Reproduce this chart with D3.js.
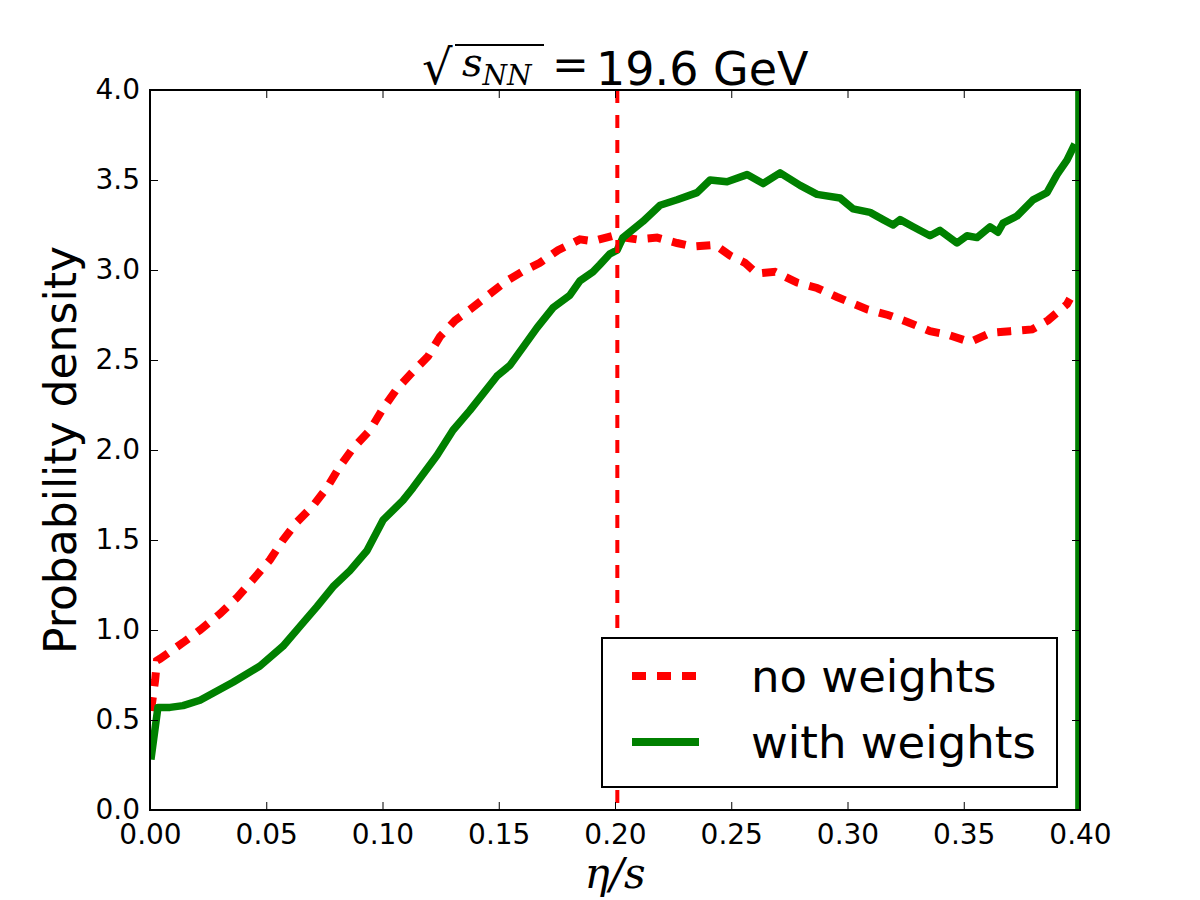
<!DOCTYPE html>
<html>
<head>
<meta charset="utf-8">
<script src="https://cdn.jsdelivr.net/npm/d3@7"></script>
<style>
  body { margin: 0; background: #fff; }
  svg { display: block; }
  .tick text { font-family: "DejaVu Sans", sans-serif; }
</style>
</head>
<body>
<svg id="chart"></svg>
<script>
const X_TICKS = [0, 0.05, 0.10, 0.15, 0.20, 0.25, 0.30, 0.35, 0.40]
const Y_TICKS = [0, 0.5, 1.0, 1.5, 2.0, 2.5, 3.0, 3.5, 4.0]
const SERIES_NAMES = ["no weights", "with weights"]
const COLORS = ["#ff0000", "#008000"]

// eta/s values and density
const noWeightsX = [0.0004, 0.0022, 0.0030, 0.0043, 0.0142, 0.0215, 0.0301, 0.0374, 0.0443, 0.0516,
    0.0572, 0.0632, 0.0701, 0.0761, 0.0817, 0.0873, 0.0946, 0.1002, 0.1062, 0.1127,
    0.1196, 0.1247, 0.1312, 0.1376, 0.1454, 0.1535, 0.1600, 0.1677, 0.1755, 0.1849,
    0.1905, 0.1991, 0.2095, 0.2181, 0.2267, 0.2335, 0.2430, 0.2495, 0.2559, 0.2611,
    0.2688, 0.2783, 0.2869, 0.2955, 0.3011, 0.3088, 0.3174, 0.3260, 0.3355, 0.3432,
    0.3527, 0.3613, 0.3699, 0.3794, 0.3862, 0.3944, 0.3957]
const noWeightsY = [0.55, 0.72, 0.83, 0.84, 0.93, 1.00, 1.09, 1.18, 1.28, 1.39,
    1.50, 1.60, 1.69, 1.79, 1.91, 2.01, 2.11, 2.23, 2.34, 2.43,
    2.52, 2.63, 2.72, 2.78, 2.86, 2.94, 2.99, 3.04, 3.11, 3.17,
    3.16, 3.19, 3.17, 3.18, 3.15, 3.13, 3.14, 3.08, 3.04, 2.98,
    2.99, 2.93, 2.90, 2.85, 2.82, 2.78, 2.75, 2.71, 2.66, 2.64,
    2.60, 2.65, 2.66, 2.67, 2.72, 2.81, 2.84]

const withWeightsX = [0.0004, 0.0034, 0.0086, 0.0142, 0.0215, 0.0357, 0.0473, 0.0572, 0.0645, 0.0718,
    0.0787, 0.0860, 0.0933, 0.1002, 0.1088, 0.1131, 0.1234, 0.1303, 0.1376, 0.1492,
    0.1548, 0.1604, 0.1665, 0.1733, 0.1806, 0.1849, 0.1905, 0.1935, 0.1978, 0.2009,
    0.2034, 0.2120, 0.2194, 0.2267, 0.2353, 0.2409, 0.2482, 0.2568, 0.2637, 0.2710,
    0.2796, 0.2869, 0.2968, 0.3024, 0.3097, 0.3153, 0.3196, 0.3226, 0.3282, 0.3355,
    0.3398, 0.3471, 0.3514, 0.3557, 0.3613, 0.3647, 0.3669, 0.3729, 0.3798, 0.3858,
    0.3901, 0.3944, 0.3978]
const withWeightsY = [0.28, 0.57, 0.57, 0.58, 0.61, 0.71, 0.80, 0.91, 1.02, 1.13,
    1.24, 1.33, 1.44, 1.61, 1.72, 1.79, 1.97, 2.11, 2.22, 2.41,
    2.47, 2.57, 2.68, 2.79, 2.86, 2.94, 2.99, 3.03, 3.09, 3.11,
    3.18, 3.27, 3.36, 3.39, 3.43, 3.50, 3.49, 3.53, 3.48, 3.54,
    3.47, 3.42, 3.40, 3.34, 3.32, 3.28, 3.25, 3.28, 3.24, 3.19,
    3.22, 3.15, 3.19, 3.18, 3.24, 3.21, 3.26, 3.30, 3.39, 3.43,
    3.53, 3.61, 3.70]

const CUT_NO_WEIGHTS = 0.201
const CUT_WITH_WEIGHTS = 0.399

const W = 1200, H = 900
let margin = {top: 90, right: 120, bottom: 90, left: 150}
let width = W - margin.left - margin.right
let height = H - margin.top - margin.bottom

let svg = d3.select("#chart").attr("width", W).attr("height", H)
let g = svg.append("g").attr("transform", `translate(${margin.left},${margin.top})`)

let xScale = d3.scaleLinear().domain([0, 0.4]).range([0, width])
let yScale = d3.scaleLinear().domain([0, 4]).range([height, 0])

const toPoints = (xs, ys) => xs.map((x, i) => ({x: x, y: ys[i]}))
const line = d3.line().x(d => xScale(d.x)).y(d => yScale(d.y))

// clip so curves stay inside the frame
svg.append("clipPath").attr("id", "plotArea")
    .append("rect").attr("width", width).attr("height", height)
let plot = g.append("g").attr("clip-path", "url(#plotArea)")

plot.append("path")
    .datum(toPoints(noWeightsX, noWeightsY))
    .attr("d", line)
    .attr("fill", "none")
    .attr("stroke", COLORS[0])
    .attr("stroke-width", 8)
    .attr("stroke-dasharray", "14,11")

plot.append("path")
    .datum(toPoints(withWeightsX, withWeightsY))
    .attr("d", line)
    .attr("fill", "none")
    .attr("stroke", COLORS[1])
    .attr("stroke-width", 7.5)
    .attr("stroke-linejoin", "round")

// vertical markers
plot.append("line")
    .attr("x1", xScale(CUT_NO_WEIGHTS)).attr("x2", xScale(CUT_NO_WEIGHTS))
    .attr("y1", 0).attr("y2", height)
    .attr("stroke", COLORS[0])
    .attr("stroke-width", 4)
    .attr("stroke-dasharray", "13,12")

plot.append("line")
    .attr("x1", xScale(CUT_WITH_WEIGHTS)).attr("x2", xScale(CUT_WITH_WEIGHTS))
    .attr("y1", 0).attr("y2", height)
    .attr("stroke", COLORS[1])
    .attr("stroke-width", 5)

// axes, ticks pointing inward on all four sides
const tickFont = 28
let xAxis = g.append("g").attr("transform", `translate(0,${height})`)
    .call(d3.axisBottom(xScale).tickValues(X_TICKS).tickFormat(d3.format(".2f")).tickSizeInner(-8).tickSizeOuter(0).tickPadding(14))
let xAxisTop = g.append("g")
    .call(d3.axisTop(xScale).tickValues(X_TICKS).tickFormat("").tickSizeInner(-8).tickSizeOuter(0))
let yAxis = g.append("g")
    .call(d3.axisLeft(yScale).tickValues(Y_TICKS).tickFormat(d3.format(".1f")).tickSizeInner(-8).tickSizeOuter(0).tickPadding(10))
let yAxisRight = g.append("g").attr("transform", `translate(${width},0)`)
    .call(d3.axisRight(yScale).tickValues(Y_TICKS).tickFormat("").tickSizeInner(-8).tickSizeOuter(0))

;[xAxis, xAxisTop, yAxis, yAxisRight].forEach(a => {
    a.select(".domain").remove()
    a.selectAll(".tick line").attr("stroke", "#000").attr("stroke-width", 1)
    a.selectAll(".tick text").attr("fill", "#000").style("font-size", tickFont + "px")
})

g.append("rect")
    .attr("width", width).attr("height", height)
    .attr("fill", "none").attr("stroke", "#000").attr("stroke-width", 2)

// y label
g.append("text")
    .attr("transform", `translate(${-74},${height / 2}) rotate(-90)`)
    .attr("text-anchor", "middle")
    .style("font-family", "DejaVu Sans, sans-serif")
    .style("font-size", "44px")
    .text("Probability density")

// x label: eta/s
g.append("text")
    .attr("x", width / 2)
    .attr("y", height + 78)
    .attr("text-anchor", "middle")
    .style("font-family", "DejaVu Serif, serif")
    .style("font-style", "italic")
    .style("font-size", "42px")
    .text("η/s")

// title: sqrt(s_NN) = 19.6 GeV
let title = svg.append("g")
title.append("text")
    .attr("x", 422).attr("y", 84)
    .style("font-family", "DejaVu Serif, serif")
    .style("font-size", "48px")
    .text("√")
title.append("line")
    .attr("x1", 455).attr("x2", 544).attr("y1", 45).attr("y2", 45)
    .attr("stroke", "#000").attr("stroke-width", 2)
let mathText = title.append("text")
    .attr("x", 462).attr("y", 76)
    .style("font-family", "DejaVu Serif, serif")
    .style("font-style", "italic")
    .style("font-size", "40px")
mathText.append("tspan").text("s")
mathText.append("tspan").attr("dy", 9).style("font-size", "28px").text("NN")
title.append("text")
    .attr("x", 552).attr("y", 80)
    .style("font-family", "DejaVu Serif, serif")
    .style("font-size", "44px")
    .text("=")
title.append("text")
    .attr("x", 596).attr("y", 85)
    .style("font-family", "DejaVu Sans, sans-serif")
    .style("font-size", "46px")
    .text("19.6 GeV")

// legend
let legend = g.append("g").attr("transform", `translate(${452},${548})`)
legend.append("rect")
    .attr("width", 455).attr("height", 149)
    .attr("fill", "#fff").attr("stroke", "#000").attr("stroke-width", 2)
SERIES_NAMES.forEach((name, i) => {
    let ly = 38 + i * 66
    legend.append("line")
        .attr("x1", 30).attr("x2", 97).attr("y1", ly).attr("y2", ly)
        .attr("stroke", COLORS[i])
        .attr("stroke-width", 8)
        .attr("stroke-dasharray", i === 0 ? "14,11" : null)
    legend.append("text")
        .attr("x", 149).attr("y", ly + 16)
        .style("font-family", "DejaVu Sans, sans-serif")
        .style("font-size", "45px")
        .text(name)
})
</script>
</body>
</html>
